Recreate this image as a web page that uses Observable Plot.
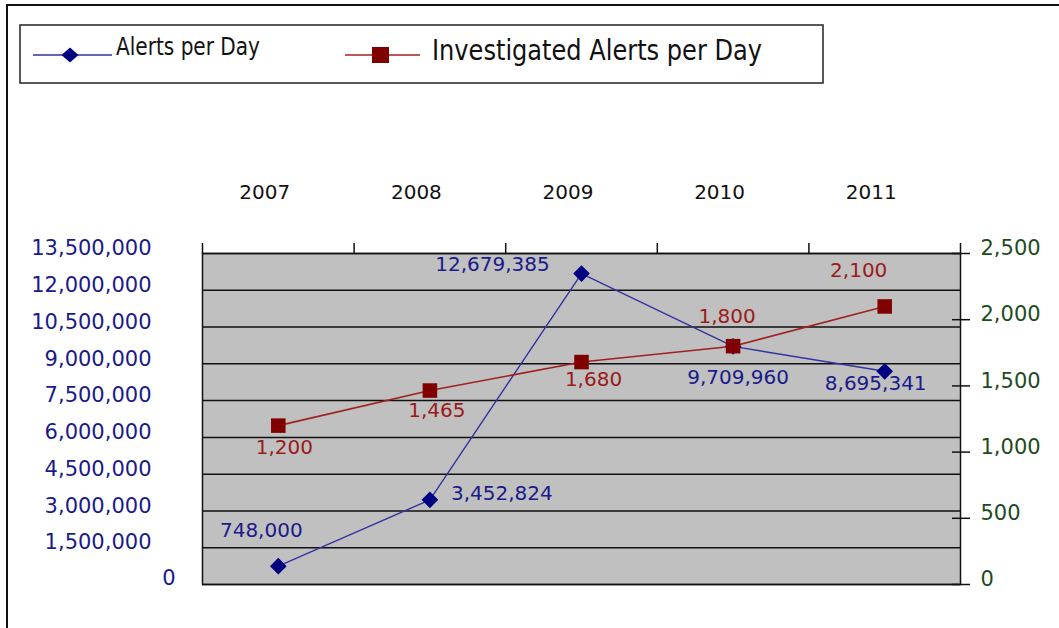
<!DOCTYPE html>
<html><head><meta charset="utf-8">
<script src="https://cdn.jsdelivr.net/npm/d3@7"></script>
<script src="https://cdn.jsdelivr.net/npm/@observablehq/plot@0.6"></script>
<style>
html,body{margin:0;padding:0;background:#fff;overflow:hidden;}
#wrap{position:relative;width:1059px;height:628px;overflow:hidden;font-family:"DejaVu Sans",sans-serif;}
#border{position:absolute;left:6px;top:4px;width:2000px;height:2000px;border-left:2px solid #111;border-top:2px solid #111;}
#chart{position:absolute;left:0;top:0;}
#legend{position:absolute;left:0;top:0;}
</style>
</head><body>
<div id="wrap">
  <div id="border"></div>
  <div id="chart"></div>
  <svg id="legend" width="1059" height="100" font-family="DejaVu Sans, sans-serif">
    <rect x="20" y="25" width="803" height="58" fill="none" stroke="#222" stroke-width="1.5"></rect>
    <line x1="33" y1="55" x2="112" y2="55" stroke="#3333a0" stroke-width="1.6"></line>
    <polygon points="70,47.5 78.5,55 70,62.5 61.5,55" fill="#000080"></polygon>
    <text x="116" y="55" font-size="24" fill="#111" textLength="144" lengthAdjust="spacingAndGlyphs">Alerts per Day</text>
    <line x1="345" y1="55" x2="420" y2="55" stroke="#a02020" stroke-width="1.6"></line>
    <rect x="372" y="47" width="17" height="16" fill="#800000"></rect>
    <text x="432" y="60" font-size="29" fill="#111" textLength="330" lengthAdjust="spacingAndGlyphs">Investigated Alerts per Day</text>
  </svg>
</div>
<script>
const years = ["2007", "2008", "2009", "2010", "2011"];
const alertsPerDay = [748000, 3452824, 12679385, 9709960, 8695341];
const investigatedPerDay = [1200, 1465, 1680, 1800, 2100];
const leftTicks = [0, 1500000, 3000000, 4500000, 6000000, 7500000, 9000000, 10500000, 12000000, 13500000];
const rightTicks = [0, 500, 1000, 1500, 2000, 2500];

// label placement (layout only)
const alertLabelOffsets = [[-17, -36], [72, -6], [-89, -9], [5, 31], [-9, 12]];
const investLabelOffsets = [[6, 22], [7, 20], [12, 18], [-6, -30], [-26, -36]];

const leftMax = leftTicks[leftTicks.length - 1];
const rightMax = rightTicks[rightTicks.length - 1];
const ratio = leftMax / rightMax;
const fmt = d3.format(",");

const rows = years.map((year, i) => ({
  year,
  pos: i + 0.5,
  alerts: alertsPerDay[i],
  invest: investigatedPerDay[i],
  investScaled: investigatedPerDay[i] * ratio
}));

const blueLine = "#3333a0", blueMark = "#000080", blueText = "#1a1a8a";
const redLine = "#a02020", redMark = "#800000", redText = "#9a1a1a";
const greenText = "#1e4b1e";

const chart = Plot.plot({
  width: 1059,
  height: 628,
  marginLeft: 202,
  marginRight: 99,
  marginTop: 253,
  marginBottom: 44,
  style: {fontFamily: "DejaVu Sans, sans-serif", fontSize: "20px", background: "transparent", overflow: "visible"},
  x: {domain: [0, years.length], axis: null, label: null},
  y: {domain: [0, leftMax], axis: null, label: null},
  marks: [
    Plot.frame({fill: "#c0c0c0"}),
    Plot.ruleY(leftTicks, {stroke: "#111", strokeWidth: 1.5}),
    Plot.frame({stroke: "#111", strokeWidth: 1.5}),
    // top category ticks at band boundaries
    Plot.axisX({anchor: "top", ticks: d3.range(years.length + 1), tickSize: 11, tickFormat: () => "", stroke: "#111", strokeWidth: 1.5}),
    // year labels
    Plot.axisX({anchor: "top", ticks: rows.map(r => r.pos), tickSize: 0, tickPadding: 55, dx: -13.5,
      tickFormat: v => years[Math.floor(v)], fill: "#111", fontSize: 20}),
    // left axis labels
    Plot.axisY({anchor: "left", ticks: leftTicks.filter(v => v > 0), tickSize: 0, tickPadding: 51, dy: -5,
      tickFormat: fmt, fill: blueText, fontSize: 21}),
    Plot.axisY({anchor: "left", ticks: leftTicks.filter(v => v === 0), tickSize: 0, tickPadding: 27, dy: -6,
      tickFormat: fmt, fill: blueText, fontSize: 21}),
    // right axis
    Plot.axisY({anchor: "right", ticks: rightTicks.map(v => v * ratio), tickSize: 18, dx: -9,
      tickFormat: () => "", stroke: "#111", strokeWidth: 1.5}),
    Plot.axisY({anchor: "right", ticks: rightTicks.map(v => v * ratio), tickSize: 0, tickPadding: 20, dy: -5,
      tickFormat: v => fmt(Math.round(v / ratio)), fill: greenText, fontSize: 21}),
    // data labels
    ...rows.map((r, i) => Plot.text([r], {x: "pos", y: "alerts", text: d => fmt(d.alerts),
      dx: alertLabelOffsets[i][0], dy: alertLabelOffsets[i][1], fill: blueText, fontSize: 20})),
    ...rows.map((r, i) => Plot.text([r], {x: "pos", y: "investScaled", text: d => fmt(d.invest),
      dx: investLabelOffsets[i][0], dy: investLabelOffsets[i][1], fill: redText, fontSize: 20})),
    // series
    Plot.line(rows, {x: "pos", y: "alerts", stroke: blueLine, strokeWidth: 1.4}),
    Plot.dot(rows, {x: "pos", y: "alerts", symbol: "diamond2", r: 7.5, fill: blueMark}),
    Plot.line(rows, {x: "pos", y: "investScaled", stroke: redLine, strokeWidth: 1.6}),
    Plot.dot(rows, {x: "pos", y: "investScaled", symbol: "square", r: 8.2, fill: redMark})
  ]
});
document.getElementById("chart").appendChild(chart);
</script>
</body></html>
